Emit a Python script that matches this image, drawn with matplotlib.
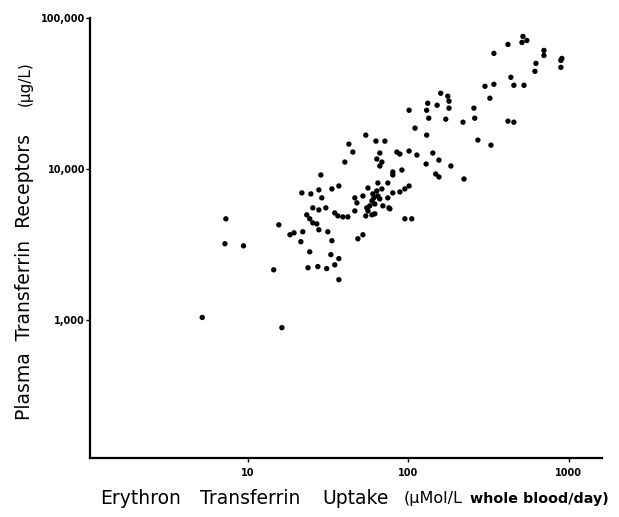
import matplotlib
matplotlib.use("Agg")
import matplotlib.pyplot as plt
from matplotlib.ticker import FixedLocator, FixedFormatter, NullLocator

# Erythron transferrin uptake (µMol/L whole blood/day)
uptake = [5.2, 16.3, 7.3, 7.2, 9.4, 15.6, 14.5, 18.3, 19.4, 22.0,
          21.4, 24.3, 23.7, 27.3, 31.0, 34.8, 32.9, 36.9, 36.9, 27.7,
          31.5, 33.4, 25.4, 27.7, 30.6, 23.3, 24.3, 25.4, 26.9, 21.7,
          24.7, 27.7, 28.9, 28.5, 33.4, 36.9, 34.8, 36.4, 39.1, 42.0,
          46.4, 48.5, 52.1, 46.4, 47.8, 52.1, 54.3, 59.3, 61.8, 55.1,
          56.0, 57.5, 59.3, 61.8, 66.4, 60.1, 63.6, 68.4, 56.0, 64.6,
          74.5, 80.0, 88.5, 95.1, 101, 69.4, 76.7, 95.1, 105, 66.4,
          68.4, 63.6, 80.0, 80.0, 91.1, 40.2, 45.1, 42.6, 54.3, 62.8,
          71.4, 66.4, 84.8, 88.5, 101, 113, 142, 129, 155, 148,
          155, 184, 222, 110, 130, 101, 132, 130, 151, 159,
          176, 179, 179, 134, 171, 219, 256, 259, 271, 327,
          417, 454, 300, 341, 322, 435, 454, 525, 341, 417,
          517, 510, 547, 699, 699, 623, 614, 904, 891, 891,
          64.6, 61.0, 74.5, 75.6]

# Plasma transferrin receptors (µg/L)
receptors = [1040, 890, 4680, 3200, 3100, 4270, 2150, 3670, 3780, 3840,
             3300, 2830, 2220, 2260, 2190, 2320, 2710, 2550, 1850, 3960,
             3840, 3350, 5530, 5360, 5530, 4970, 4680, 4400, 4330, 6950,
             6840, 7270, 6440, 9130, 7380, 7720, 5120, 4890, 4820, 4820,
             5280, 3450, 3670, 6440, 5970, 6630, 4890, 4970, 5050, 5530,
             5280, 5700, 6150, 5870, 6340, 6840, 7160, 7380, 7490, 8080,
             8080, 6950, 7050, 7380, 7720, 5700, 5450, 4680, 4680, 10470,
             11120, 11650, 9550, 9130, 9850, 11120, 12950, 14620, 16760, 15300,
             15300, 12760, 12950, 12560, 13150, 12370, 12760, 10790, 11460, 9270,
             8860, 10470, 8590, 18650, 16760, 24500, 27270, 24500, 26450, 31750,
             30340, 28120, 25290, 21710, 21380, 20420, 25290, 21710, 15540, 14390,
             20740, 20420, 35300, 36390, 29420, 40480, 35840, 35840, 58300, 66830,
             75500, 68900, 71000, 61000, 56500, 50100, 44360, 54000, 52400, 47100,
             6630, 6440, 6440, 5530]

x_ticks = [10, 100, 1000]
x_tick_labels = ["10", "100", "1000"]
y_ticks = [1000, 10000, 100000]
y_tick_labels = ["1,000", "10,000", "100,000"]

W, H = 619, 517
fig = plt.figure(figsize=(W / 100, H / 100), dpi=100)
ax = fig.add_axes([90 / W, 1 - 458 / H, (602 - 90) / W, (458 - 18) / H])

ax.scatter(uptake, receptors, s=15, c="black", edgecolors="none", zorder=3)

ax.set_xscale("log")
ax.set_yscale("log")
ax.set_xlim(1.04, 1607)
ax.set_ylim(122, 100000)

ax.xaxis.set_major_locator(FixedLocator(x_ticks))
ax.xaxis.set_major_formatter(FixedFormatter(x_tick_labels))
ax.yaxis.set_major_locator(FixedLocator(y_ticks))
ax.yaxis.set_major_formatter(FixedFormatter(y_tick_labels))
ax.xaxis.set_minor_locator(NullLocator())
ax.yaxis.set_minor_locator(NullLocator())

for s in ["top", "right"]:
    ax.spines[s].set_visible(False)
for s in ["left", "bottom"]:
    ax.spines[s].set_linewidth(1.6)
    ax.spines[s].set_color("black")

ax.tick_params(axis="y", length=3, width=1, pad=0.5, labelsize=7)
ax.tick_params(axis="x", length=3, width=1, pad=4, labelsize=7)
for lab in ax.get_xticklabels() + ax.get_yticklabels():
    lab.set_fontweight("bold")

# y-axis label
fig.text(25 / W, 1 - 277 / H, "Plasma  Transferrin  Receptors",
         rotation=90, ha="center", va="center", fontsize=13.5)
fig.text(25 / W, 1 - 84 / H, "(µg/L)",
         rotation=90, ha="center", va="center", fontsize=11)

# x-axis label pieces
xl_y = 1 - 499 / H
fig.text(100 / W, xl_y, "Erythron", ha="left", va="center", fontsize=13.5)
fig.text(200 / W, xl_y, "Transferrin", ha="left", va="center", fontsize=13.5)
fig.text(322 / W, xl_y, "Uptake", ha="left", va="center", fontsize=13.5)
fig.text(404 / W, xl_y, "(µMol/L", ha="left", va="center", fontsize=11.5)
fig.text(470 / W, xl_y, "whole blood/day)", ha="left", va="center",
         fontsize=10.3, fontweight="bold")

fig.savefig("out.png", dpi=100)
